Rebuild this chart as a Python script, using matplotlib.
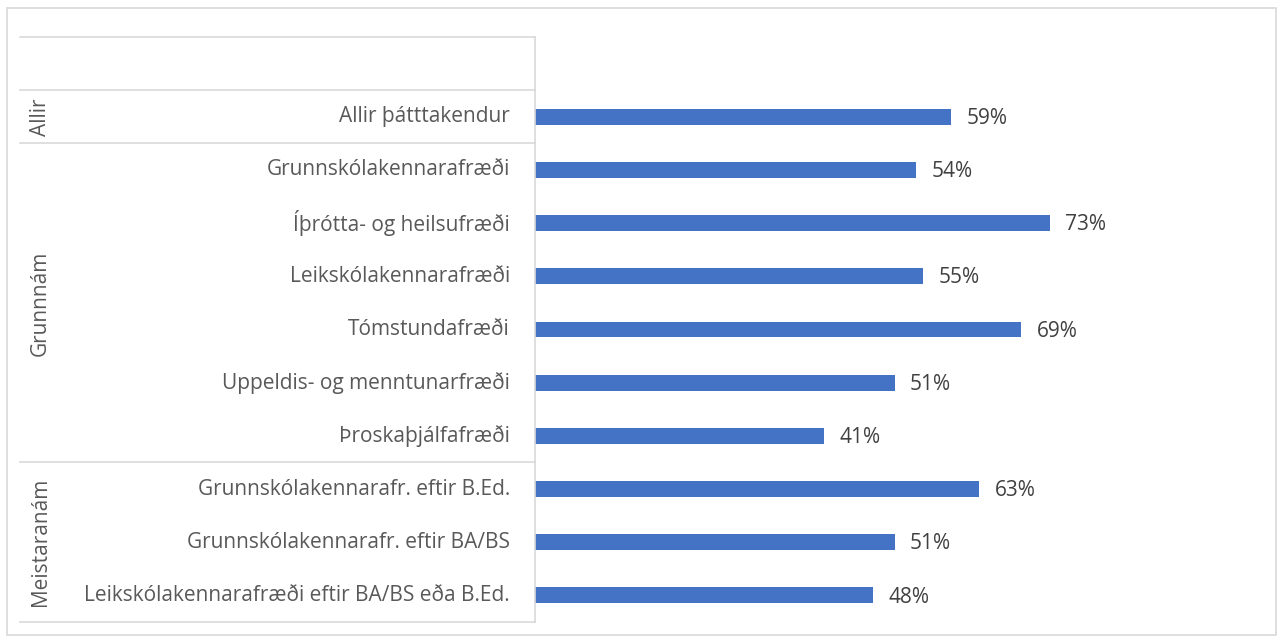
import matplotlib.pyplot as plt
from matplotlib.patches import Rectangle
from matplotlib.transforms import blended_transform_factory

# categories, top to bottom
labels = [
  "Allir þátttakendur",
  "Grunnskólakennarafræði",
  "Íþrótta- og heilsufræði",
  "Leikskólakennarafræði",
  "Tómstundafræði",
  "Uppeldis- og menntunarfræði",
  "Þroskaþjálfafræði",
  "Grunnskólakennarafr. eftir B.Ed.",
  "Grunnskólakennarafr. eftir BA/BS",
  "Leikskólakennarafræði eftir BA/BS eða B.Ed.",
]
values = [59, 54, 73, 55, 69, 51, 41, 63, 51, 48]
groups = ["Allir", "Grunnnám", "Meistaranám"]
group_sizes = [1, 6, 3]

BAR = "#4472C4"
TXT = "#595959"
LINE = "#D9D9D9"
FONT = "Open Sans"
FS = 15

W, H = 1279, 643
fig = plt.figure(figsize=(W / 100, H / 100), dpi=100)

# chart border
fig.add_artist(Rectangle((7 / W, 1 - 635 / H), 1269 / W, 627 / H,
                         transform=fig.transFigure, fill=False,
                         edgecolor=LINE, linewidth=1.2))

ax = fig.add_axes([535 / W, 1 - 622 / H, (1099 - 535) / W, (622 - 37) / H])

# slot 0 is left empty, the rest hold the bars
ypos = list(range(1, len(labels) + 1))
ax.barh(ypos, values, height=0.3, color=BAR)
for y, v in zip(ypos, values):
  ax.text(v + 2.2, y + 0.03, f"{v}%", va="center", ha="left",
          fontsize=FS, color="#404040", family=FONT)

ax.set_xlim(0, 80)
ax.set_ylim(len(labels) + 0.5, -0.5)
ax.set_xticks([])
ax.set_yticks([])
for s in ["top", "right", "bottom"]:
  ax.spines[s].set_visible(False)
ax.spines["left"].set_color(LINE)
ax.spines["left"].set_linewidth(1.2)

# category labels and group column
tr = blended_transform_factory(fig.transFigure, ax.transData)
for y, lab in zip(ypos, labels):
  ax.text(510 / W, y, lab, transform=tr, ha="right", va="center",
          fontsize=FS, color=TXT, family=FONT)

bounds = [-0.5]
start = 0.5
for g, n in zip(groups, group_sizes):
  end = start + n
  ax.text(40 / W, (start + end) / 2, g, transform=tr, rotation=90,
          ha="center", va="center", fontsize=FS, color=TXT, family=FONT)
  bounds.append(start)
  start = end
bounds.append(start)
for b in bounds:
  ax.plot([20 / W, 535 / W], [b, b], transform=tr, color=LINE,
          linewidth=1.2, clip_on=False)

fig.savefig("out.png", dpi=100)
